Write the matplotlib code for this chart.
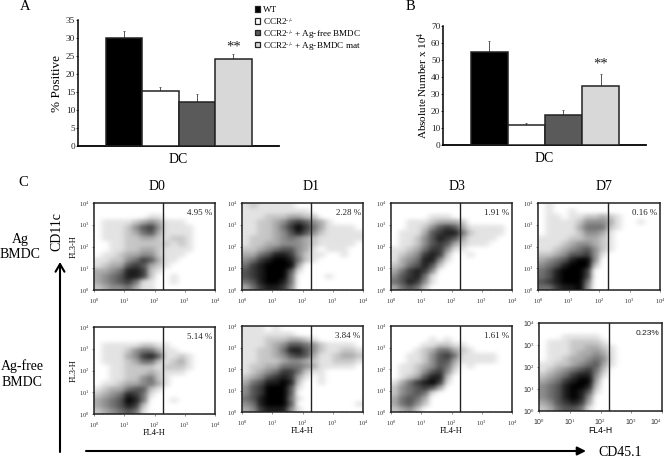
# -*- coding: utf-8 -*
"""
Bar charts of DC numbers and FL3/FL4 density plots for the BMDC transfer
"""

import numpy as np
import matplotlib as mpl
mpl.use('Agg')
import matplotlib.pyplot as plt
from matplotlib.colors import LinearSegmentedColormap
from matplotlib.patches import Rectangle

plt.rcParams['font.family'] = 'Liberation Serif'
plt.rcParams['mathtext.fontset'] = 'custom'
plt.rcParams['mathtext.rm'] = 'Liberation Serif'
plt.rcParams['mathtext.default'] = 'rm'

groups = ['WT', r'CCR2$^{\text{-/-}}$', r'CCR2$^{\text{-/-}}$ + Ag-free BMDC', r'CCR2$^{\text{-/-}}$ + Ag-BMDC mat']
barColours = ['#000000', '#ffffff', '#5a5a5a', '#d8d8d8']

percentPositive = [30.0, 15.2, 12.3, 24.2]
percentError = [2.0, 1.1, 2.2, 1.3]
absoluteNumber = [54.5, 11.5, 17.5, 34.5]
absoluteError = [6.5, 1.5, 3.0, 7.0]

days = ['D0', 'D1', 'D3', 'D7']
percentAg = ['4.95 %', '2.28 %', '1.91 %', '0.16 %']
percentFree = ['5.14 %', '3.84 %', '1.61 %', '0.23%']
gateValue = 2.28

# Dot density read by eye, quarter decade cells, top row is 10^4 end of FL3-H
ag_d0 = ['0000000000000000', '0000000000000000', '0000000110000000', '0111123431110000',
         '0111246741111000', '0111235631111000', '0111223321221000', '0011222222121000',
         '0011223321111000', '0112334421110000', '1122457631100000', '1233676321000000',
         '3345887210000000', '3456887200100000', '3456751100100000', '2344531100000000']
ag_d1 = ['1211111000000000', '1111111110000000', '1112223322000000', '1122346764310000',
         '1122357975311110', '1122346864211111', '1222345432111111', '1223344432111110',
         '2234566431011100', '3356887421100100', '4578998521000000', '5789999300000000',
         '6789996100000000', '6789995000010000', '5689985000000000', '3578874000000000']
ag_d3 = ['0000000000000000', '0000000000000000', '0000011100000000', '0011123332000000',
         '0011246763111110', '0111367885211110', '0112468763111100', '0112467632111000',
         '1123577411000000', '1234787200100000', '1345884100000000', '2356862000000000',
         '3578740000000000', '4678510000000000', '5687410000000000', '3565200000000000']
ag_d7 = ['0100000000000000', '0100100000000000', '0110112232100000', '0111124443100100',
         '0111135552100000', '0111124431000000', '1111223321000000', '1112344321000000',
         '1123456421000000', '2234667410000000', '3456899400000000', '4568999200000000',
         '5689997000000000', '5689997000000000', '6789995000000000', '5578894000000000']
free_d0 = ['0000000000000000', '0000000000000000', '0000000000000000', '0111112211000000',
           '0111245531100000', '0111347861121000', '0111235521231000', '0011222212221000',
           '0011222321110000', '0011224521000000', '0112334531000000', '1233566210000000',
           '2345875100000000', '3456985000100000', '3456872000000000', '2345651000000000']
free_d1 = ['1110100000000000', '1111111000000000', '1112223321000000', '1112346654211110',
           '1122358864211221', '1122346763112332', '1122234432112221', '1223355543111110',
           '1234577521100000', '2346787310100000', '3568898200100000', '4679996100000000',
           '4679996000000000', '5689995100000000', '4589996000000001', '3478884100000000']
free_d3 = ['0000000000000000', '0000000000000000', '0000010100000000', '0000112211000000',
           '0001235532100000', '0011246751111100', '0011246631111100', '0112346520100000',
           '0112467410000000', '0123688200000000', '1357897100000000', '2456763000000000',
           '2456510000000000', '3565300000000000', '3564200000000000', '2342000000000000']
free_d7 = ['0000000000000000', '0000000000000000', '0001111100000000', '0111222210000000',
           '0111223321000000', '0111233431000000', '0112334541000000', '1122345631000000',
           '1234567520000000', '2345788410000000', '3457899300000000', '4568998200000000',
           '4568986100000000', '4568984000000000', '3467873000000000', '2356651000000000']

figW = 664.0
figH = 457.0
fig = plt.figure(figsize=(figW / 100, figH / 100), dpi=100)
greyMap = LinearSegmentedColormap.from_list('dots', ['#ffffff', '#000000'])


def AddAxes(x0, y0, x1, y1):
    # Box given in picture pixels, y measured from the top
    return fig.add_axes([x0 / figW, 1 - y1 / figH, (x1 - x0) / figW, (y1 - y0) / figH])


def DrawBars(box, xRange, yTop, yStep, values, errors, label, labelX, labelSize, starY):
    ax = AddAxes(*box)
    pos = np.arange(len(values))
    ax.bar(pos, values, width=1.0, color=barColours, edgecolor='#222222', linewidth=1.1, zorder=3)
    ax.errorbar(pos, values, yerr=[np.zeros(len(errors)), errors], fmt='none', ecolor='#555555',
                elinewidth=0.7, capsize=1.0, capthick=0.6, zorder=2)
    ax.set_xlim(xRange)
    ax.set_ylim(0, yTop)
    ax.set_yticks(np.arange(0, yTop + 1, yStep))
    ax.set_xticks([])
    ax.tick_params(axis='y', labelsize=6.7, length=1.5, width=0.6, pad=0.5, colors='#222222')
    ax.spines['top'].set_visible(False)
    ax.spines['right'].set_visible(False)
    ax.spines['left'].set_linewidth(1.1)
    ax.spines['bottom'].set_linewidth(1.3)
    ax.patch.set_alpha(0)
    ax.set_ylabel(label, fontsize=labelSize, labelpad=0)
    ax.yaxis.set_label_coords(labelX, 0.5)
    ax.set_xlabel('DC', fontsize=10, labelpad=5)
    ax.text(3, starY, '**', fontsize=10.5, ha='center', va='center', color='#222222')
    return ax


axA = DrawBars((78, 20, 279, 146), (-1.26, 4.25), 35, 5, percentPositive, percentError,
               '% Positive', -0.075, 9.5, 27.6)
axB = DrawBars((443, 26, 646, 145), (-1.24, 4.22), 70, 10, absoluteNumber, absoluteError,
               'Absolute Number x 10$^4$', -0.065, 8, 47.5)

# Flow plots, columns D0 to D7
rowAg = [ag_d0, ag_d1, ag_d3, ag_d7]
rowFree = [free_d0, free_d1, free_d3, free_d7]
boxesAg = [(94, 203, 215, 290), (242, 203, 363, 290), (391, 203, 512, 290), (538, 203, 660, 290)]
boxesFree = [(94, 327, 215, 414), (242, 326, 363, 412), (391, 326, 512, 412), (539, 323, 662, 411)]
minorPos = [d + np.log10(m) for d in range(4) for m in range(2, 10)]
decades = [0, 1, 2, 3, 4]


def DrawFlow(box, rows, pctText, showX, showY, sans=False):
    ax = AddAxes(*box)
    density = np.array([[int(c) for c in row] for row in rows])
    ax.imshow(density, cmap=greyMap, vmin=0, vmax=9, extent=(0, 4, 0, 4), aspect='auto',
              interpolation='gaussian', zorder=1)
    ax.axvline(gateValue, color='#222222', linewidth=1.0, zorder=3)
    ax.set_xlim(0, 4)
    ax.set_ylim(0, 4)
    family = 'Liberation Sans' if sans else 'Liberation Serif'
    tickSize = 5.0 if sans else 4.6
    labels = ['10$^{%d}$' % d for d in decades]
    ax.set_xticks(decades)
    ax.set_yticks(decades)
    ax.set_xticklabels(labels, family=family)
    ax.set_yticklabels(labels, family=family)
    ax.set_xticks(minorPos, minor=True)
    ax.set_yticks(minorPos, minor=True)
    ax.tick_params(which='major', labelsize=tickSize, length=1.5, width=0.4, pad=1.5, colors='#333333')
    ax.tick_params(axis='x', which='major', pad=3.5)
    ax.tick_params(which='minor', length=0.8, width=0.3, colors='#555555')
    if sans:
        # last label would run off the picture
        ax.get_xticklabels()[-1].set_horizontalalignment('right')
    for side in ax.spines.values():
        side.set_linewidth(1.1)
        side.set_color('#222222')
    ax.text(0.98, 0.885, pctText, transform=ax.transAxes, ha='right', va='center', family=family,
            fontsize=6.0 if sans else 6.4, color='#222222', zorder=4)
    if showX:
        ax.set_xlabel('FL4-H', fontsize=6.2 if sans else 6, family=family, labelpad=-1)
    if showY:
        ax.set_ylabel('FL3-H', fontsize=6, labelpad=1)


for i in range(4):
    DrawFlow(boxesAg[i], rowAg[i], percentAg[i], False, i == 0)
    DrawFlow(boxesFree[i], rowFree[i], percentFree[i], True, i == 0, sans=(i == 3))

# Everything else is placed on a full figure layer in pixel coordinates
top = fig.add_axes([0, 0, 1, 1])
top.set_xlim(0, figW)
top.set_ylim(figH, 0)
top.axis('off')
top.patch.set_alpha(0)

for i in range(4):
    legendY = 9 + 11.8 * i
    top.add_patch(Rectangle((254.5, legendY - 2.7), 5.4, 5.4, facecolor=barColours[i], edgecolor='#222222', linewidth=0.9))
    top.text(263, legendY, groups[i], fontsize=6.6, ha='left', va='center_baseline')

top.text(25, 6, 'A', fontsize=10.5, ha='center', va='center')
top.text(410, 6, 'B', fontsize=10.5, ha='center', va='center')
top.text(23, 182, 'C', fontsize=10.5, ha='center', va='center')
for name, x in zip(days, [157, 311, 457, 604]):
    top.text(x, 186, name, fontsize=10, ha='center', va='center')
top.text(20, 247, 'Ag\nBMDC', fontsize=10, ha='center', va='center', linespacing=1.3)
top.text(22, 374, 'Ag-free\nBMDC', fontsize=10, ha='center', va='center', linespacing=1.25)
top.text(57, 232, 'CD11c', fontsize=10, rotation=90, ha='center', va='center')
top.text(620, 452, 'CD45.1', fontsize=10, ha='center', va='center')
top.annotate('', xy=(60, 262), xytext=(60, 452),
             arrowprops=dict(arrowstyle='->,head_length=0.55,head_width=0.32', lw=1.5, color='black',
                             shrinkA=0, shrinkB=0))
top.annotate('', xy=(586, 451), xytext=(86, 451),
             arrowprops=dict(arrowstyle='-|>,head_length=0.5,head_width=0.25', lw=1.5, color='black',
                             shrinkA=0, shrinkB=0))

fig.savefig('out.png', dpi=100)
